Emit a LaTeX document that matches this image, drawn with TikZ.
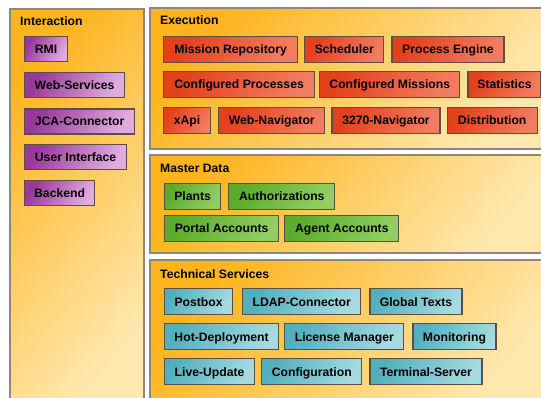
\documentclass[tikz,border=0pt]{standalone}
\usepackage{fontspec}
\setmainfont{Liberation Sans}
\usetikzlibrary{positioning}

\definecolor{panelA}{HTML}{FDB41E}
\definecolor{panelB}{HTML}{FFE8AE}
\definecolor{panelline}{HTML}{8E877A}
\definecolor{boxline}{HTML}{5E4E42}
\definecolor{purpleA}{HTML}{983898}
\definecolor{purpleB}{HTML}{E0ACE0}
\definecolor{redA}{HTML}{E3401C}
\definecolor{redB}{HTML}{F27C60}
\definecolor{greenA}{HTML}{5AAC2C}
\definecolor{greenB}{HTML}{92CE62}
\definecolor{cyanA}{HTML}{52B0BE}
\definecolor{cyanB}{HTML}{A4DAE0}

\tikzset{
  panel/.style={draw=panelline,line width=1.5pt,top color=panelA,bottom color=panelB,shading angle=50},
  title/.style={anchor=base west,inner sep=0pt,font=\bfseries\fontsize{12.2}{14}\selectfont},
  box/.style={draw=boxline,line width=1.2pt,anchor=north west,minimum height=26pt,
    inner sep=1pt,text height=8.8pt,text depth=0pt,font=\bfseries\fontsize{12.2}{14}\selectfont},
  inter/.style={box,top color=purpleA,bottom color=purpleB,shading angle=60},
  exec/.style={box,top color=redA,bottom color=redB,shading angle=60},
  master/.style={box,top color=greenA,bottom color=greenB,shading angle=60},
  tech/.style={box,top color=cyanA,bottom color=cyanB,shading angle=60}
}

\begin{document}
\begin{tikzpicture}[x=1pt,y=-1pt]
  \clip (0,0) rectangle (541,398);
  \fill[white] (0,0) rectangle (541,398);

  % panels
  \draw[panel] (10,9) rectangle (144,404);
  \draw[panel] (150,8) rectangle (548,149);
  \draw[panel] (150,155) rectangle (548,253);
  \draw[panel] (150,260) rectangle (548,404);

  \node[title] (tinter) at (20,26) {Interaction};
  \node[title] (texec) at (160,25) {Execution};
  \node[title] (tmaster) at (160,173) {Master Data};
  \node[title] (ttech) at (160,278) {Technical Services};

  % interaction
  \node[inter,minimum width=43pt,minimum height=25pt] (rmi) at (24,36) {RMI};
  \node[inter,minimum width=100pt,minimum height=25pt] (websrv) [below right=10pt and 0pt of rmi.south west] {Web-Services};
  \node[inter,minimum width=110pt,minimum height=25pt] (jca) [below right=10pt and 0pt of websrv.south west] {JCA-Connector};
  \node[inter,minimum width=102pt,minimum height=25pt] (ui) [below right=9pt and 0pt of jca.south west] {User Interface};
  \node[inter,minimum width=70pt,minimum height=25pt] (backend) [below right=10pt and 0pt of ui.south west] {Backend};

  % execution
  \node[exec,minimum width=134pt] (mrep) at (163,36) {Mission Repository};
  \node[exec,minimum width=79pt] (sched) [right=6pt of mrep] {Scheduler};
  \node[exec,minimum width=112pt] (peng) [right=7pt of sched] {Process Engine};

  \node[exec,minimum width=151pt] (cproc) at (163,71) {Configured Processes};
  \node[exec,minimum width=140pt] (cmis) [right=4pt of cproc] {Configured Missions};
  \node[exec,minimum width=73pt] (stat) [right=7pt of cmis] {Statistics};

  \node[exec,minimum width=47pt] (xapi) at (163,107) {xApi};
  \node[exec,minimum width=106pt] (webnav) [right=7pt of xapi] {Web-Navigator};
  \node[exec,minimum width=108pt] (nav3270) [right=6pt of webnav] {3270-Navigator};
  \node[exec,minimum width=90pt] (distr) [right=6pt of nav3270] {Distribution};

  % master data
  \node[master,minimum width=56pt] (plants) at (164,183) {Plants};
  \node[master,minimum width=106pt] (auth) [right=7pt of plants] {Authorizations};
  \node[master,minimum width=114pt] (portal) at (164,215) {Portal Accounts};
  \node[master,minimum width=114pt] (agent) [right=5pt of portal] {Agent Accounts};

  % technical services
  \node[tech,minimum width=68pt] (postbox) at (164,288) {Postbox};
  \node[tech,minimum width=118pt] (ldap) [right=9pt of postbox] {LDAP-Connector};
  \node[tech,minimum width=92pt] (gtexts) [right=8pt of ldap] {Global Texts};

  \node[tech,minimum width=114pt] (hotdep) at (164,323) {Hot-Deployment};
  \node[tech,minimum width=119pt] (licmgr) [right=5pt of hotdep] {License Manager};
  \node[tech,minimum width=83pt] (monit) [right=8pt of licmgr] {Monitoring};

  \node[tech,minimum width=90pt] (liveup) at (164,358) {Live-Update};
  \node[tech,minimum width=100pt] (config) [right=6pt of liveup] {Configuration};
  \node[tech,minimum width=112pt] (termsrv) [right=7pt of config] {Terminal-Server};
\end{tikzpicture}
\end{document}
